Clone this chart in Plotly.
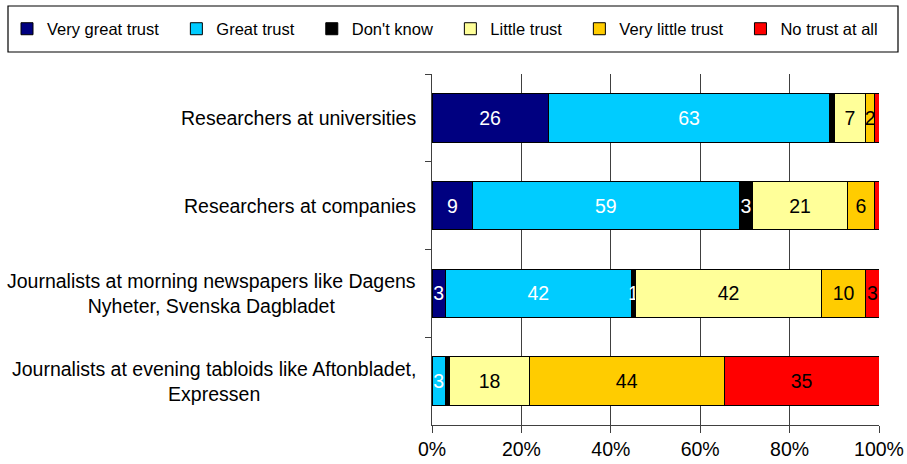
import plotly.graph_objects as go

# survey: trust in researchers / journalists (percent of respondents)
groups = [
    "Researchers at universities",
    "Researchers at companies",
    "Journalists at morning newspapers like Dagens<br>Nyheter, Svenska Dagbladet",
    "Journalists at evening tabloids like Aftonbladet,<br>Expressen",
]

very_great = [26, 9, 3, 0]
great = [63, 59, 42, 3]
dont_know = [1, 3, 1, 1]
little = [7, 21, 42, 18]
very_little = [2, 6, 10, 44]
no_trust = [1, 1, 3, 35]

# which values carry a data label in the original
very_great_txt = ["26", "9", "3", ""]
great_txt = ["63", "59", "42", "3"]
dont_know_txt = ["", "3", "1", ""]
little_txt = ["7", "21", "42", "18"]
very_little_txt = ["2", "6", "10", "44"]
no_trust_txt = ["", "", "3", "35"]

x_ticks = [0, 20, 40, 60, 80, 100]
x_ticktext = ["0%", "20%", "40%", "60%", "80%", "100%"]

series = [
    ("Very great trust", very_great, very_great_txt, "#000080", "white"),
    ("Great trust", great, great_txt, "#00CCFF", "white"),
    ("Don't know", dont_know, dont_know_txt, "#000000", "white"),
    ("Little trust", little, little_txt, "#FFFF99", "black"),
    ("Very little trust", very_little, very_little_txt, "#FFCC00", "black"),
    ("No trust at all", no_trust, no_trust_txt, "#FF0000", "black"),
]

FONT = "Liberation Sans, Arial, sans-serif"
W, H = 907, 464
ml, mr, mt, mb = 432, 28, 74, 39
pw = W - ml - mr
ph = H - mt - mb

fig = go.Figure()
pad = "\u00a0\u00a0\u2009"
for i, (name, vals, txt, col, tcol) in enumerate(series):
    label = name + (pad if i < len(series) - 1 else "")
    fig.add_trace(go.Bar(
        y=groups, x=vals, name=label, orientation="h",
        text=txt, textposition="inside", insidetextanchor="middle",
        textangle=0, constraintext="none",
        insidetextfont=dict(color=tcol, size=19.5, family=FONT),
        marker=dict(color=col, line=dict(color="black", width=1)),
    ))

# category labels as annotations so wrapped lines are centred like the original
for g in groups:
    fig.add_annotation(x=0, xref="paper", y=g, yref="y", text=g,
                       showarrow=False, xanchor="right", align="center",
                       xshift=-14, font=dict(size=19.5))

# legend frame (the legend itself has no padding control)
fig.add_shape(type="rect", xref="paper", yref="paper",
              x0=(8 - ml) / pw, x1=(898 - ml) / pw,
              y0=(H - mb - 52) / ph, y1=(H - mb - 6) / ph,
              line=dict(color="black", width=1.2), fillcolor="rgba(0,0,0,0)")

fig.update_layout(
    width=W, height=H,
    barmode="stack", barnorm="percent", bargap=0.45,
    paper_bgcolor="white", plot_bgcolor="white",
    margin=dict(l=ml, r=mr, t=mt, b=mb, autoexpand=False),
    font=dict(family=FONT, size=19.5, color="black"),
    showlegend=True,
    legend=dict(orientation="h", xref="paper", yref="paper",
                x=(7 - ml) / pw, xanchor="left",
                y=(H - mb - 29) / ph, yanchor="middle",
                font=dict(size=16.5), bgcolor="rgba(0,0,0,0)", borderwidth=0,
                traceorder="normal"),
    xaxis=dict(range=[0, 100], tickmode="array", tickvals=x_ticks, ticktext=x_ticktext,
               showgrid=True, gridcolor="#404040", gridwidth=1,
               showline=True, linecolor="#404040", linewidth=1,
               ticks="outside", ticklen=7, tickcolor="#404040",
               zeroline=False, automargin=False),
    yaxis=dict(type="category", autorange="reversed", tickson="boundaries",
               ticks="outside", ticklen=6, tickcolor="#404040",
               showline=True, linecolor="#404040", linewidth=1,
               showticklabels=False, showgrid=False, automargin=False),
)

fig.write_html("out.html", config={"displayModeBar": False},
               post_script="document.body.style.margin='0';")
